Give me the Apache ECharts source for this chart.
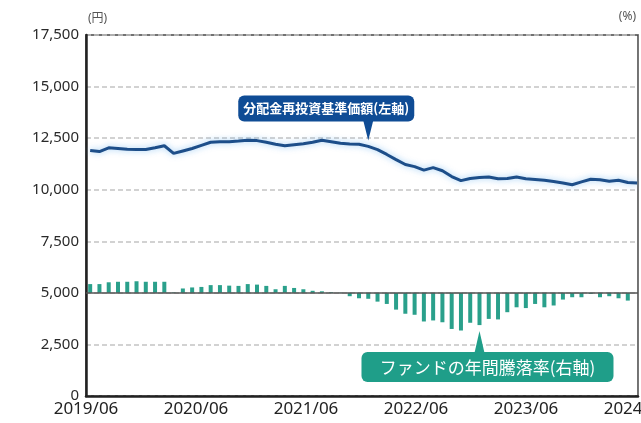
<!DOCTYPE html>
<html><head><meta charset="utf-8">
<script src="https://cdn.jsdelivr.net/npm/echarts@6/dist/echarts.min.js"></script>
<style>html,body{margin:0;padding:0;background:#fff}#c{width:641px;height:423px}</style>
</head><body><div id="c"></div>
<script>
const months = [
 '2019/06','2019/07','2019/08','2019/09','2019/10','2019/11','2019/12',
 '2020/01','2020/02','2020/03','2020/04','2020/05','2020/06','2020/07','2020/08','2020/09','2020/10','2020/11','2020/12',
 '2021/01','2021/02','2021/03','2021/04','2021/05','2021/06','2021/07','2021/08','2021/09','2021/10','2021/11','2021/12',
 '2022/01','2022/02','2022/03','2022/04','2022/05','2022/06','2022/07','2022/08','2022/09','2022/10','2022/11','2022/12',
 '2023/01','2023/02','2023/03','2023/04','2023/05','2023/06','2023/07','2023/08','2023/09','2023/10','2023/11','2023/12',
 '2024/01','2024/02','2024/03','2024/04','2024/05'
];
// 分配金再投資基準価額 (円)
const navValues = [
 11900,11850,12030,12000,11960,11950,11950,12030,12130,11760,
 11880,12000,12150,12300,12330,12330,12360,12400,12380,12300,
 12200,12130,12180,12230,12300,12400,12330,12250,12220,12200,
 12100,11940,11710,11460,11220,11120,10950,11070,10920,10640,
 10440,10540,10590,10620,10530,10540,10620,10530,10500,10460,
 10400,10330,10240,10380,10510,10480,10410,10460,10350,10330
];
// ファンドの年間騰落率 (%)
const returnValues = [
 3.4,3.4,4.1,4.3,4.3,4.5,4.3,4.3,4.3,0.2,
 1.7,2.1,2.3,3.0,3.0,2.8,2.7,3.4,3.2,2.7,
 1.4,2.7,1.9,1.4,0.8,0.6,0.3,0.1,-1.3,-2.1,
 -2.3,-3.4,-4.3,-6.5,-8.1,-8.5,-11.1,-10.7,-11.4,-14.0,
 -14.6,-11.6,-12.5,-10.1,-10.3,-7.5,-5.6,-5.9,-4.3,-5.6,
 -4.9,-2.6,-1.7,-1.7,-0.4,-1.7,-1.3,-2.1,-3.0,null
];
const yTickLabels = ['0','2,500','5,000','7,500','10,000','12,500','15,000','17,500'];
const xTickLabels = ['2019/06','2020/06','2021/06','2022/06','2023/06','2024/06'];
const navLabel = '分配金再投資基準価額(左軸)';
const retLabel = 'ファンドの年間騰落率(右軸)';

const FONT = '"Noto Sans", "Noto Sans CJK JP", sans-serif';
const navData = navValues.map((v, i) => [i, v]);
const retData = returnValues.map((v, i) => [i, v]);

const chart = echarts.init(document.getElementById('c'), null, {renderer: 'canvas'});
const option = {
  animation: false,
  backgroundColor: '#fff',
  grid: [
    {left: 86, right: 3, top: 35, bottom: 27, show: true, borderColor: '#444', borderWidth: 1.5,
     backgroundColor: 'transparent', outerBoundsMode: 'none', containLabel: false},
    {left: 86, right: 5, top: 35, bottom: 27, show: false, outerBoundsMode: 'none', containLabel: false}
  ],
  xAxis: [
    {gridIndex: 0, type: 'value', min: -0.45, max: 59.1,
     axisLine: {show: true, onZero: false, lineStyle: {color: '#222', width: 2.5}},
     axisTick: {show: false}, axisLabel: {show: false}, splitLine: {show: false}},
    {gridIndex: 1, type: 'value', min: 0, max: 60, interval: 12,
     axisLine: {show: false, onZero: false}, axisTick: {show: false}, splitLine: {show: false},
     axisLabel: {formatter: v => xTickLabels[Math.round(v / 12)], margin: 5, hideOverlap: false,
       fontSize: 17, color: '#222', fontFamily: FONT}}
  ],
  yAxis: [
    {gridIndex: 0, type: 'value', min: 0, max: 17500, interval: 2500,
     name: '(円)', nameLocation: 'end', nameGap: 10,
     nameTextStyle: {align: 'left', fontSize: 12, color: '#555', fontFamily: FONT, padding: [0, 0, 0, 2]},
     axisLine: {show: true, onZero: false, lineStyle: {color: '#222', width: 2.5}},
     axisTick: {show: false},
     axisLabel: {formatter: v => yTickLabels[Math.round(v / 2500)], fontSize: 15, color: '#2a2a2a',
       fontFamily: FONT, margin: 7, padding: [4, 0, 0, 0]},
     splitLine: {show: true, lineStyle: {color: '#c4c4c4', width: 1.5, type: [5, 3]}}},
    {gridIndex: 0, type: 'value', min: -40, max: 100, position: 'right',
     name: '(%)', nameLocation: 'end', nameGap: 12,
     nameTextStyle: {align: 'right', fontSize: 12, color: '#555', fontFamily: FONT, padding: [0, 2, 0, 0]},
     axisLine: {show: true, onZero: false, lineStyle: {color: '#777', width: 1}},
     axisTick: {show: false}, axisLabel: {show: false}, splitLine: {show: false}},
    {gridIndex: 1, type: 'value', show: false}
  ],
  series: [
    {type: 'line', xAxisIndex: 0, yAxisIndex: 0, data: navData, showSymbol: false, symbol: 'none',
     z: 5,
     lineStyle: {color: '#1d4e89', width: 3, shadowColor: 'rgba(110,180,240,0.7)', shadowBlur: 6}},
    {type: 'bar', xAxisIndex: 0, yAxisIndex: 1, data: retData, barWidth: 4,
     itemStyle: {color: '#2aa08b'}, z: 3,
     markLine: {silent: true, symbol: 'none', label: {show: false},
       lineStyle: {color: '#555', width: 1.5, type: 'solid'},
       data: [{yAxis: 0}]}}
  ]
};
chart.setOption(option);

// callouts anchored to data points
const navIdx = 30, retIdx = 42;
const tb = chart.convertToPixel({seriesIndex: 0}, [navIdx, navValues[navIdx]]);
const tg = chart.convertToPixel({seriesIndex: 1}, [retIdx, returnValues[retIdx]]);
const bx = tb[0], by = tb[1] - 6;
const gx = tg[0], gy = tg[1];
const blue = '#0f4c95', green = '#1f9e89';
chart.setOption({
  graphic: [
    {type: 'rect', z: 20, shape: {x: bx - 130, y: by - 45, width: 176, height: 26, r: 6}, style: {fill: blue}},
    {type: 'polygon', z: 20, shape: {points: [[bx - 5, by - 20], [bx + 5, by - 20], [bx, by]]}, style: {fill: blue}},
    {type: 'text', z: 21, style: {text: navLabel, x: bx - 42, y: by - 32, fill: '#fff',
      font: 'bold 13px "Noto Sans CJK JP", sans-serif', align: 'center', verticalAlign: 'middle'}},
    {type: 'rect', z: 20, shape: {x: gx - 118, y: gy + 27, width: 252, height: 30, r: 6}, style: {fill: green}},
    {type: 'polygon', z: 20, shape: {points: [[gx - 5, gy + 28], [gx + 5, gy + 28], [gx, gy + 6]]}, style: {fill: green}},
    {type: 'text', z: 21, style: {text: retLabel, x: gx + 8, y: gy + 42, fill: '#fff',
      font: '17px "Noto Sans CJK JP", sans-serif', align: 'center', verticalAlign: 'middle'}}
  ]
});
</script>
</body></html>
